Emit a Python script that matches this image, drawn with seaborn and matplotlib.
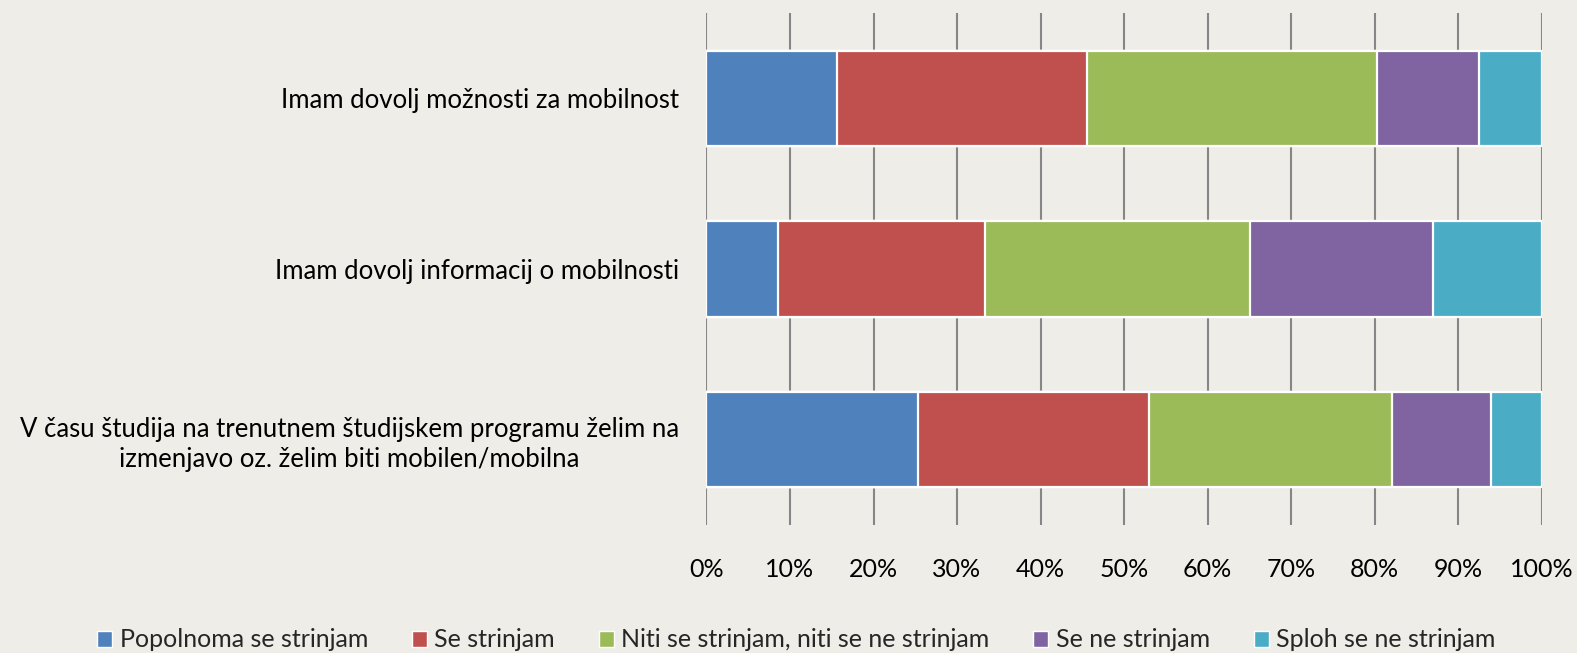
import numpy as np
import pandas as pd
import seaborn as sns
import matplotlib.pyplot as plt
from matplotlib.patches import Patch
from matplotlib.ticker import PercentFormatter

# data (percent of answers)
questions = [
    "Imam dovolj možnosti za mobilnost",
    "Imam dovolj informacij o mobilnosti",
    "V času študija na trenutnem študijskem programu želim na\nizmenjavo oz. želim biti mobilen/mobilna",
]
answers = [
    "Popolnoma se strinjam",
    "Se strinjam",
    "Niti se strinjam, niti se ne strinjam",
    "Se ne strinjam",
    "Sploh se ne strinjam",
]
popolnoma = [15.6, 8.6, 25.3]
strinjam = [30.0, 24.8, 27.7]
niti = [34.7, 31.7, 29.1]
ne_strinjam = [12.2, 21.9, 11.8]
sploh_ne = [7.5, 13.0, 6.1]
colors = ["#4F81BD", "#C0504D", "#9BBB59", "#8064A2", "#4BACC6"]

bg = "#EEEDE8"
sns.set_style("white")
plt.rcParams["font.family"] = ["Lato", "DejaVu Sans"]

# cumulative shares, normalised to 100 %
vals = np.array([popolnoma, strinjam, niti, ne_strinjam, sploh_ne])
vals = vals / vals.sum(axis=0) * 100
cum = vals.cumsum(axis=0)

fig = plt.figure(figsize=(15.77, 6.53), dpi=100, facecolor=bg)
ax = fig.add_axes([0.448, 0.196, 0.5295, 0.784])
ax.set_facecolor(bg)

# draw from the largest cumulative to the smallest so layers stack
for i in range(len(answers) - 1, -1, -1):
    df = pd.DataFrame({"q": questions, "v": cum[i]})
    sns.barplot(data=df, x="v", y="q", order=questions, color=colors[i],
                saturation=1, width=0.56, edgecolor="white", linewidth=1.6,
                ax=ax, zorder=3)

ax.set_xlim(0, 100)
ax.set_ylim(2.5, -0.5)
ax.set_xticks(np.arange(0, 101, 10))
ax.xaxis.set_major_formatter(PercentFormatter(decimals=0))
ax.grid(axis="x", color="#868686", linewidth=1.5, zorder=0)
ax.set_axisbelow(True)
for s in ax.spines.values():
    s.set_visible(False)
ax.set_xlabel("")
ax.set_ylabel("")
ax.tick_params(axis="x", length=0, pad=24, labelsize=18, colors="black")
ax.tick_params(axis="y", length=0, pad=20, labelsize=18.5, colors="black")
for t in ax.get_yticklabels():
    t.set_multialignment("center")
    t.set_linespacing(1.25)

handles = [Patch(facecolor=c, edgecolor="white", linewidth=1) for c in colors]
fig.legend(handles, answers, loc="center", bbox_to_anchor=(0.505, 0.02),
           ncol=5, frameon=False, fontsize=18, handlelength=0.6,
           handleheight=0.6, handletextpad=0.3, columnspacing=1.75)

fig.savefig("out.png", dpi=100, facecolor=bg)
